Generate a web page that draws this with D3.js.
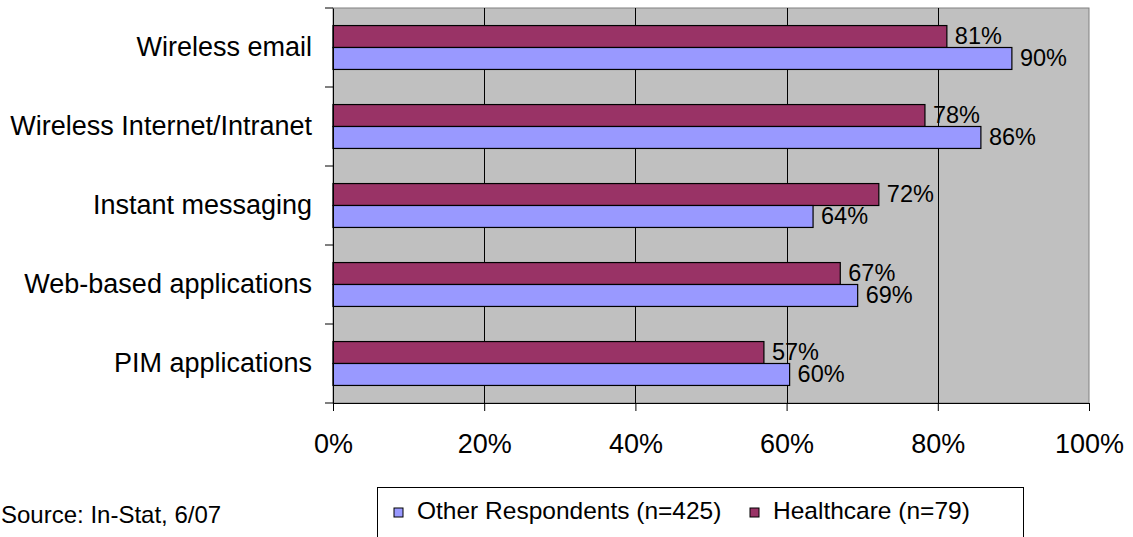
<!DOCTYPE html>
<html>
<head>
<meta charset="utf-8">
<script src="https://cdn.jsdelivr.net/npm/d3@7"></script>
<style>
  body { margin: 0; background: #fff; }
  svg { display: block; font-family: "Liberation Sans", Arial, sans-serif; }
</style>
</head>
<body>
<div id="chart"></div>
<script>
// Data
const categories = ['Wireless email', 'Wireless Internet/Intranet', 'Instant messaging', 'Web-based applications', 'PIM applications'];
const healthcare = [0.812, 0.783, 0.722, 0.671, 0.570];
const otherResp = [0.898, 0.857, 0.635, 0.694, 0.604];
const xTicks = [0, 0.2, 0.4, 0.6, 0.8, 1];
const seriesNames = ['Other Respondents (n=425)', 'Healthcare (n=79)'];
const seriesColors = ['#9999FF', '#993366'];

const width = 1133, height = 537;
const margin = { top: 8, right: 44, bottom: 134, left: 333 };
const innerW = width - margin.left - margin.right;
const innerH = height - margin.top - margin.bottom;
const FONT = '"Liberation Sans", Arial, sans-serif';

const svg = d3.select('#chart').append('svg')
    .attr('width', width)
    .attr('height', height);

const chart = svg.append('g')
    .attr('transform', `translate(${margin.left},${margin.top})`);

const xScale = d3.scaleLinear().domain([0, 1]).range([0, innerW]);
const yScale = d3.scaleBand().domain(categories).range([0, innerH]);
// two bars per category, stacked inside the band
const subScale = d3.scaleBand().domain(['hc', 'other']).range([0, yScale.bandwidth()])
    .paddingInner(0).paddingOuter(0.8);

// plot background
chart.append('rect')
    .attr('width', innerW)
    .attr('height', innerH)
    .attr('fill', '#C0C0C0')
    .attr('stroke', '#808080')
    .attr('stroke-width', 1);

// vertical gridlines
chart.selectAll('.grid')
    .data(xTicks.filter(d => d > 0 && d < 1))
    .join('line')
    .attr('class', 'grid')
    .attr('x1', d => Math.round(xScale(d)) + 0.5)
    .attr('x2', d => Math.round(xScale(d)) + 0.5)
    .attr('y1', 0)
    .attr('y2', innerH)
    .attr('stroke', '#000')
    .attr('stroke-width', 1);

const rows = categories.map((c, i) => ({ cat: c, hc: healthcare[i], other: otherResp[i] }));
const bars = [];
rows.forEach(r => {
    bars.push({ cat: r.cat, key: 'hc', v: r.hc, color: seriesColors[1] });
    bars.push({ cat: r.cat, key: 'other', v: r.other, color: seriesColors[0] });
});

const barY = d => yScale(d.cat) + subScale(d.key);

chart.selectAll('.bar')
    .data(bars)
    .join('rect')
    .attr('class', 'bar')
    .attr('x', 0)
    .attr('y', barY)
    .attr('width', d => xScale(d.v))
    .attr('height', subScale.bandwidth())
    .attr('fill', d => d.color)
    .attr('stroke', '#000')
    .attr('stroke-width', 1.2);

chart.selectAll('.val')
    .data(bars)
    .join('text')
    .attr('class', 'val')
    .attr('x', d => xScale(d.v) + 8)
    .attr('y', d => barY(d) + subScale.bandwidth() / 2)
    .attr('dy', '0.33em')
    .attr('font-size', 23.5)
    .attr('fill', '#000')
    .text(d => d3.format('.0%')(d.v));

// axes
const yAxis = d3.axisLeft(yScale).tickSize(0).tickPadding(21);
const yAxisG = chart.append('g').call(yAxis)
    .attr('font-family', FONT).attr('font-size', 27);
yAxisG.select('.domain').attr('stroke', '#000');
yAxisG.selectAll('text').attr('fill', '#000');

// y ticks at the category boundaries
const yBounds = categories.map(c => yScale(c)).concat([innerH]);
chart.selectAll('.ytick')
    .data(yBounds)
    .join('line')
    .attr('class', 'ytick')
    .attr('x1', -8).attr('x2', 0)
    .attr('y1', d => d).attr('y2', d => d)
    .attr('stroke', '#000');

const xAxis = d3.axisBottom(xScale).tickValues(xTicks).tickFormat(d3.format('.0%'))
    .tickSize(8).tickPadding(23).tickSizeOuter(0);
const xAxisG = chart.append('g')
    .attr('transform', `translate(0,${innerH})`)
    .call(xAxis)
    .attr('font-family', FONT).attr('font-size', 27);
xAxisG.select('.domain').attr('stroke', '#000');
xAxisG.selectAll('text').attr('fill', '#000');

// source note
svg.append('text')
    .attr('x', 1)
    .attr('y', 523)
    .attr('font-size', 24)
    .text('Source: In-Stat, 6/07');

// legend
const legend = svg.append('g').attr('transform', 'translate(377,487)');
legend.append('rect')
    .attr('x', 0.5).attr('y', 0.5)
    .attr('width', 646).attr('height', 70)
    .attr('fill', '#fff')
    .attr('stroke', '#000');

const legendX = [17, 373];
const items = legend.selectAll('.item')
    .data(seriesNames)
    .join('g')
    .attr('class', 'item')
    .attr('transform', (d, i) => `translate(${legendX[i]},0)`);
items.append('rect')
    .attr('x', 0).attr('y', 21)
    .attr('width', 9).attr('height', 9)
    .attr('fill', (d, i) => seriesColors[i])
    .attr('stroke', '#000');
items.append('text')
    .attr('x', 23)
    .attr('y', 32)
    .attr('font-size', 24.5)
    .text(d => d);
</script>
</body>
</html>
